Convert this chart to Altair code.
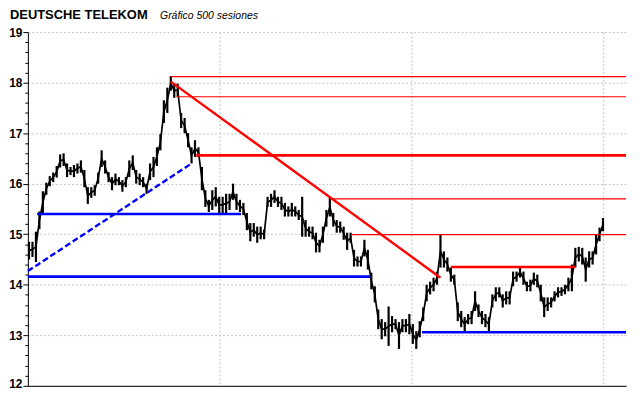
import altair as alt
import pandas as pd

title_text = "DEUTSCHE TELEKOM"
subtitle_text = "Gráfico 500 sesiones"

# session lows / highs, one entry every 3 sessions
low = [14.50, 14.55, 14.45, 15.10, 15.40, 15.78, 15.95, 16.03, 16.12, 16.32,
       16.35, 16.13, 16.17, 16.13, 16.20, 16.22, 15.93, 15.60, 15.72, 15.76,
       16.00, 16.33, 16.20, 16.03, 15.87, 15.97, 15.97, 15.84, 15.93, 16.13,
       16.27, 16.00, 15.97, 15.93, 15.80, 16.07, 16.13, 16.35, 16.66, 17.20,
       17.40, 17.84, 17.70, 17.72, 17.10, 17.00, 16.72, 16.40, 16.53, 16.53,
       15.87, 15.54, 15.44, 15.48, 15.55, 15.42, 15.42, 15.42, 15.48, 15.68,
       15.48, 15.44, 15.38, 15.08, 14.86, 14.95, 14.83, 14.90, 14.90, 15.54,
       15.54, 15.62, 15.54, 15.48, 15.35, 15.35, 15.35, 15.35, 15.28, 14.95,
       14.95, 14.95, 14.90, 14.64, 14.64, 14.83, 15.15, 15.35, 15.15, 15.03,
       15.03, 14.89, 14.69, 14.83, 14.36, 14.36, 14.36, 14.56, 14.30, 13.91,
       13.65, 13.12, 12.92, 12.98, 12.79, 13.06, 13.12, 12.73, 13.06, 13.06,
       13.02, 12.83, 12.73, 12.96, 13.28, 13.67, 13.81, 13.87, 14.00, 14.34,
       14.34, 14.26, 14.06, 14.00, 13.28, 13.16, 13.08, 13.22, 13.22, 13.48,
       13.36, 13.22, 13.16, 13.08, 13.55, 13.67, 13.75, 13.55, 13.61, 13.61,
       13.97, 14.06, 14.14, 14.00, 13.87, 13.87, 14.00, 13.95, 13.67, 13.36,
       13.48, 13.55, 13.67, 13.75, 13.78, 13.81, 13.87, 13.87, 14.34, 14.46,
       14.40, 14.06, 14.34, 14.40, 14.60, 14.86, 15.06]
high = [14.85, 14.85, 15.05, 15.45, 15.85, 16.02, 16.15, 16.22, 16.35, 16.58,
        16.60, 16.40, 16.33, 16.37, 16.40, 16.46, 16.27, 15.93, 15.93, 15.97,
        16.22, 16.66, 16.46, 16.23, 16.13, 16.20, 16.13, 16.07, 16.13, 16.46,
        16.56, 16.27, 16.20, 16.13, 16.00, 16.40, 16.53, 16.72, 16.98, 17.65,
        17.90, 18.13, 17.98, 17.98, 17.40, 17.30, 17.00, 16.72, 16.86, 16.72,
        16.33, 15.87, 15.68, 15.87, 15.93, 15.74, 15.74, 15.80, 15.80, 16.00,
        15.80, 15.68, 15.62, 15.42, 15.22, 15.22, 15.15, 15.15, 15.09, 15.74,
        15.80, 15.87, 15.74, 15.74, 15.62, 15.55, 15.62, 15.55, 15.48, 15.74,
        15.28, 15.15, 15.15, 15.03, 14.89, 15.15, 15.48, 15.72, 15.42, 15.28,
        15.25, 15.15, 15.03, 15.03, 14.69, 14.56, 14.56, 14.89, 14.69, 14.24,
        13.97, 13.51, 13.32, 13.26, 13.57, 13.38, 13.32, 13.26, 13.32, 13.32,
        13.42, 13.22, 13.08, 13.28, 13.55, 14.00, 14.06, 14.14, 14.26, 14.99,
        14.66, 14.54, 14.34, 14.20, 13.65, 13.48, 13.36, 13.42, 13.48, 13.87,
        13.61, 13.48, 13.42, 13.36, 13.81, 13.95, 13.95, 13.81, 13.87, 13.87,
        14.26, 14.26, 14.36, 14.26, 14.06, 14.10, 14.24, 14.20, 14.00, 13.75,
        13.75, 13.75, 13.87, 13.95, 13.95, 14.00, 14.14, 14.40, 14.73, 14.75,
        14.73, 14.54, 14.66, 14.66, 14.99, 15.13, 15.32]
sessions = list(range(1, 1 + 3 * len(low), 3))

# horizontal levels (price, first session, last session)
thin_red_y = [18.12, 17.72, 15.70, 14.99]
thin_red_from = [124, 129, 262, 281]
thin_red_to = [519, 519, 519, 519]

thick_red_y = [16.56, 14.35]
thick_red_from = [146, 367]
thick_red_to = [519, 475]

blue_y = [15.40, 14.16, 13.06]
blue_from = [8, 0, 342]
blue_to = [185, 297, 519]

# trend lines
red_trend = {"s0": [124], "p0": [18.02], "s1": [358], "p1": [14.14]}
blue_trend = {"s0": [0], "p0": [14.27], "s1": [142], "p1": [16.40]}

y_ticks = [round(12 + 0.2 * i, 1) for i in range(36)]
x_grid = [166, 333, 499]

price = pd.DataFrame({"s": sessions[:len(high)], "lo": low[:len(high)], "hi": high})
price["mid"] = (price["lo"] + price["hi"]) / 2

x_scale = alt.Scale(domain=[0, 519], nice=False, zero=False)
y_scale = alt.Scale(domain=[12, 19], nice=False, zero=False)

is_int = "datum.value % 1 === 0"
y_axis = alt.Axis(
    values=y_ticks, title=None, format=".0f",
    labelExpr=f"{is_int} ? datum.label : ''",
    labelFont="Liberation Sans", labelFontWeight="bold", labelFontSize=12,
    labelColor="black", labelPadding=1,
    labelOffset={"condition": {"test": "datum.value === 12", "value": -2}, "value": 0},
    tickColor="black", tickSize={"condition": {"test": is_int, "value": 5}, "value": 3},
    domainColor="black", grid=True, gridColor="#c4c4c4", gridDash=[2, 2],
    gridOpacity={"condition": {"test": is_int, "value": 1}, "value": 0},
)
x_axis = alt.Axis(
    values=x_grid, title=None, labels=False, ticks=False,
    domainColor="black", grid=True, gridColor="#c4c4c4", gridDash=[2, 2],
)

X = lambda f: alt.X(f, scale=x_scale, axis=x_axis, title=None)
Y = lambda f: alt.Y(f, scale=y_scale, axis=y_axis, title=None)

bars = alt.Chart(price).mark_rule(color="black", strokeWidth=2.2).encode(
    x=X("s:Q"), y=Y("lo:Q"), y2="hi:Q",
)
path = alt.Chart(price).mark_line(color="black", strokeWidth=1.7).encode(
    x=X("s:Q"), y=Y("mid:Q"),
)


def hlines(ys, x0, x1, color, width):
    df = pd.DataFrame({"s": x0, "s1": x1, "lo": ys})
    return alt.Chart(df).mark_rule(color=color, strokeWidth=width).encode(
        x=X("s:Q"), x2="s1:Q", y=Y("lo:Q"),
    )


def trend(d, color, width, dash=None):
    kw = {"color": color, "strokeWidth": width}
    if dash:
        kw["strokeDash"] = dash
    df = pd.DataFrame({"s": d["s0"], "s1": d["s1"], "lo": d["p0"], "hi": d["p1"]})
    return alt.Chart(df).mark_rule(**kw).encode(
        x=X("s:Q"), x2="s1:Q", y=Y("lo:Q"), y2="hi:Q",
    )


thin_red = hlines(thin_red_y, thin_red_from, thin_red_to, "#ff0000", 1.2)
thick_red = hlines(thick_red_y, thick_red_from, thick_red_to, "#ff0000", 2.6)
blue = hlines(blue_y, blue_from, blue_to, "#0000ff", 2.6)
red_line = trend(red_trend, "#ff0000", 2.4)
blue_line = trend(blue_trend, "#0000ff", 2.4, [6, 3])

title = alt.Chart(pd.DataFrame({"t": [title_text]})).mark_text(
    font="Liberation Sans", fontWeight="bold", fontSize=13, align="left",
    baseline="alphabetic", color="black"
).encode(text="t:N", x=alt.value(-18), y=alt.value(-13.5))
subtitle = alt.Chart(pd.DataFrame({"t": [subtitle_text]})).mark_text(
    font="Liberation Sans", fontStyle="italic", fontSize=10.5, align="left",
    baseline="alphabetic", color="black"
).encode(text="t:N", x=alt.value(133), y=alt.value(-13.5))

chart = alt.layer(
    bars, path, thin_red, thick_red, blue, red_line, blue_line, title, subtitle
).properties(
    width=602, height=356,
    padding={"left": 20, "top": 23, "right": 6, "bottom": 3},
    autosize=alt.AutoSizeParams(type="none"),
    background="white",
).configure_view(stroke=None)

chart.save("out.html", embed_options={"renderer": "svg", "actions": False})
